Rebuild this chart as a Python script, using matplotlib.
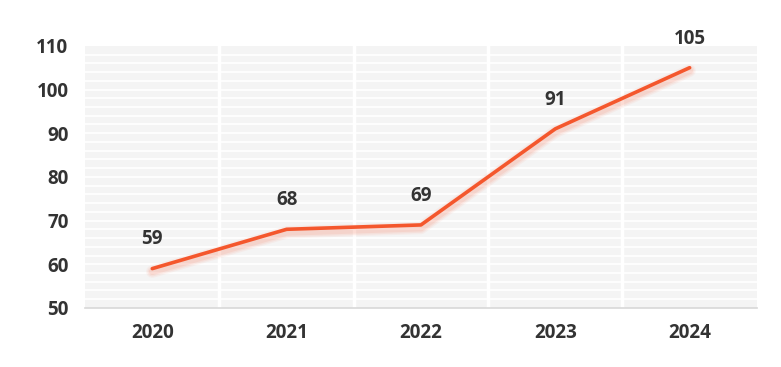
import matplotlib.pyplot as plt
import matplotlib.ticker as mticker
import matplotlib.transforms as mtransforms
import numpy as np

years = ['2020', '2021', '2022', '2023', '2024']
values = [59, 68, 69, 91, 105]
y_ticks = [50, 60, 70, 80, 90, 100, 110]

plt.rcParams['font.family'] = ['Open Sans', 'DejaVu Sans']

fig = plt.figure(figsize=(7.81, 3.67), dpi=100)
ax = fig.add_axes([0.109, 0.161, 0.860, 0.714])

x = np.arange(len(years))
line_color = '#f4572d'

ax.set_facecolor('#f4f4f4')
ax.set_xlim(-0.5, len(years) - 0.5)
ax.set_ylim(50, 110)

# white stripes every 2 units and white separators between categories
for yv in np.arange(52, 110, 2):
    ax.axhline(yv, color='white', linewidth=1.3, zorder=1)
for xv in x[:-1] + 0.5:
    ax.axvline(xv, color='white', linewidth=2.5, zorder=1)

# soft shadow under the line
for lw, a in [(9, 0.05), (7, 0.07), (5, 0.09)]:
    shadow = mtransforms.offset_copy(ax.transData, fig=fig, x=0, y=-3, units='dots')
    ax.plot(x, values, color=line_color, linewidth=lw, alpha=a,
            solid_capstyle='round', transform=shadow, zorder=2)

ax.plot(x, values, color=line_color, linewidth=2.6, solid_capstyle='round',
        solid_joinstyle='round', zorder=3)

for xi, v in zip(x, values):
    ax.annotate(str(v), (xi, v), xytext=(0, 21), textcoords='offset points',
                ha='center', va='center', fontsize=13.5, fontweight='bold',
                color='#333333')

ax.set_xticks(x)
ax.set_xticklabels(years)
ax.yaxis.set_major_locator(mticker.FixedLocator(y_ticks))
ax.tick_params(axis='both', length=0, labelsize=13.5, colors='#333333')
ax.tick_params(axis='x', pad=11)
ax.tick_params(axis='y', pad=12)
for lbl in ax.get_xticklabels() + ax.get_yticklabels():
    lbl.set_fontweight('bold')

for side in ['top', 'right', 'left']:
    ax.spines[side].set_visible(False)
ax.spines['bottom'].set_color('#d8d8d8')
ax.spines['bottom'].set_linewidth(1.2)

fig.savefig('out.png', dpi=100)
